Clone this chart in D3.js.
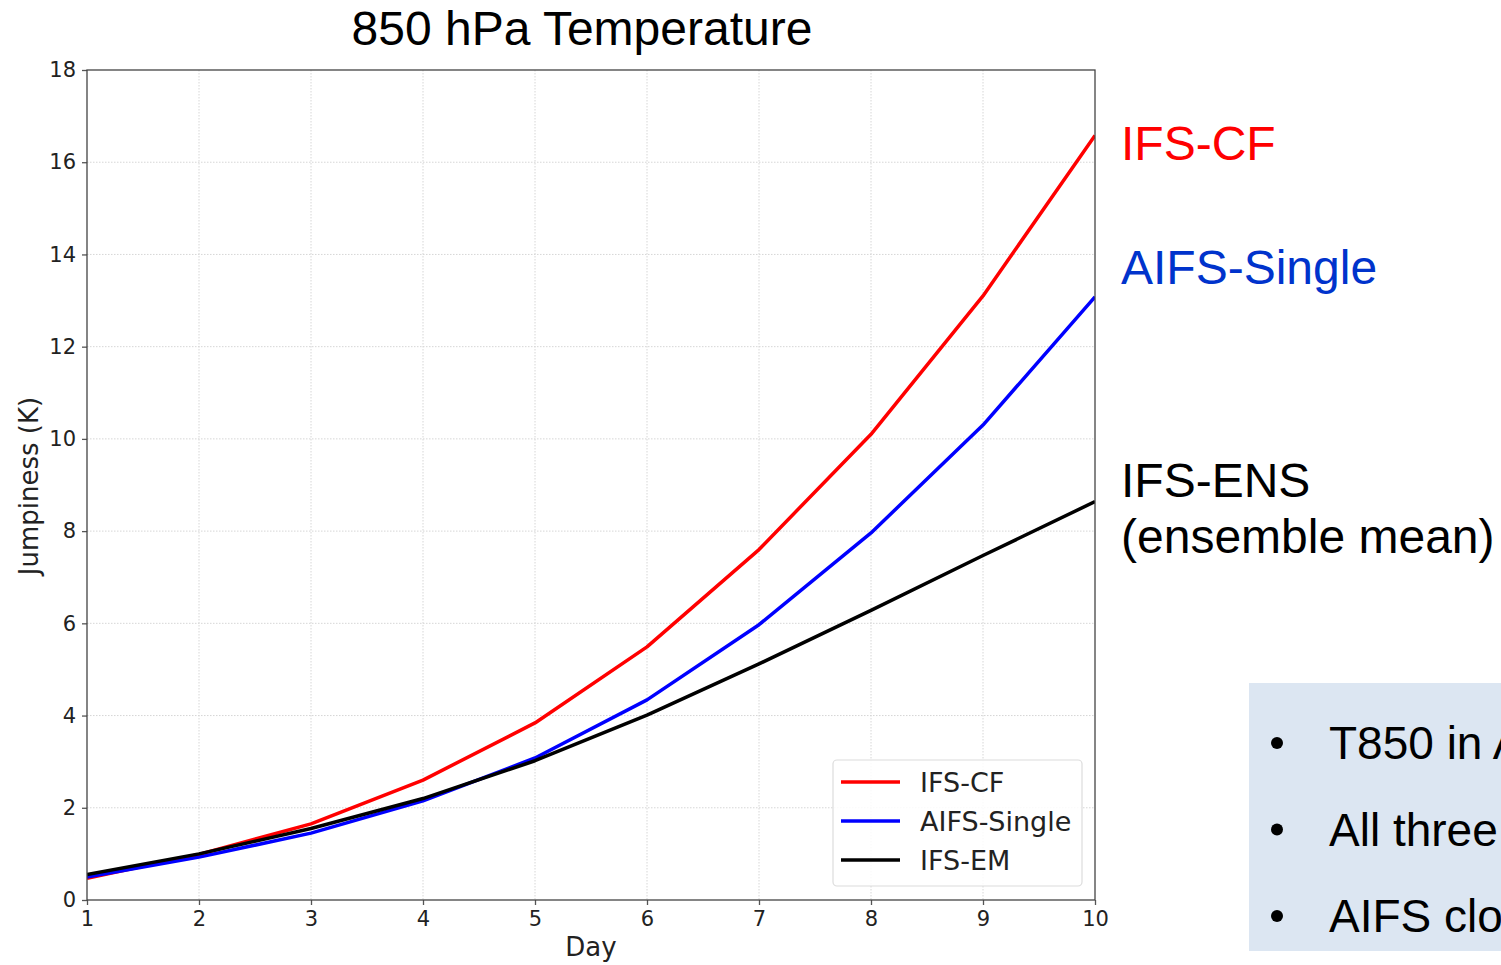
<!DOCTYPE html>
<html><head><meta charset="utf-8">
<script src="https://cdn.jsdelivr.net/npm/d3@7"></script>
<style>body{margin:0;background:#fff;overflow:hidden}svg{display:block}</style>
</head><body>
<svg id="c" width="1501" height="965"></svg>
<script>
const days = [1,2,3,4,5,6,7,8,9,10];
const ifsCF = [0.47,0.99,1.65,2.6,3.84,5.49,7.6,10.1,13.1,16.58];
const aifsSingle = [0.5,0.93,1.45,2.15,3.08,4.34,5.97,7.96,10.3,13.08];
const ifsEM = [0.55,1.0,1.55,2.2,3.02,4.01,5.12,6.28,7.47,8.64];
const xTicks = [1,2,3,4,5,6,7,8,9,10];
const yTicks = [0,2,4,6,8,10,12,14,16,18];
const seriesNames = ["IFS-CF","AIFS-Single","IFS-EM"];
const seriesColors = ["#ff0000","#0000ff","#000000"];
const bullets = ["T850 in AIFS","All three","AIFS closer"];

const svg = d3.select("#c");
const L=87, R=1095, T=70, B=900;
const x = d3.scaleLinear().domain([1,10]).range([L,R]);
const y = d3.scaleLinear().domain([0,18]).range([B,T]);
const tickFont = "DejaVu Sans, sans-serif";

// grid
const g = svg.append("g");
g.selectAll(".gx").data(xTicks.slice(1,-1)).join("line")
  .attr("x1",d=>x(d)).attr("x2",d=>x(d)).attr("y1",T).attr("y2",B)
  .attr("stroke","#d6d6d6").attr("stroke-width",1).attr("stroke-dasharray","1.5,1.5");
g.selectAll(".gy").data(yTicks.slice(1,-1)).join("line")
  .attr("x1",L).attr("x2",R).attr("y1",d=>y(d)).attr("y2",d=>y(d))
  .attr("stroke","#d6d6d6").attr("stroke-width",1).attr("stroke-dasharray","1.5,1.5");

// lines
const series = [ifsCF, aifsSingle, ifsEM];
const line = d3.line().x((d,i)=>x(days[i])).y(d=>y(d));
svg.append("defs").append("clipPath").attr("id","pc").append("rect")
  .attr("x",L).attr("y",T).attr("width",R-L).attr("height",B-T);
series.forEach((s,k)=>{
  svg.append("path").datum(s).attr("d",line).attr("fill","none")
    .attr("stroke",seriesColors[k]).attr("stroke-width",3.5)
    .attr("stroke-linejoin","round").attr("clip-path","url(#pc)");
});

// axes
const xAxis = svg.append("g").attr("transform",`translate(0,${B})`)
  .call(d3.axisBottom(x).tickValues(xTicks).tickSize(5).tickPadding(6).tickFormat(d3.format("d")));
const yAxis = svg.append("g").attr("transform",`translate(${L},0)`)
  .call(d3.axisLeft(y).tickValues(yTicks).tickSize(5).tickPadding(6).tickFormat(d3.format("d")));
[xAxis,yAxis].forEach(a=>{
  a.select(".domain").remove();
  a.selectAll("line").attr("stroke","#555").attr("stroke-width",1.3);
  a.selectAll("text").attr("fill","#222").style("font-family",tickFont).style("font-size","21px");
});
// frame
svg.append("rect").attr("x",L).attr("y",T).attr("width",R-L).attr("height",B-T)
  .attr("fill","none").attr("stroke","#444").attr("stroke-width",1.3);

// axis labels
svg.append("text").attr("x",(L+R)/2).attr("y",956).attr("text-anchor","middle")
  .style("font-family",tickFont).style("font-size","26px").attr("fill","#222").text("Day");
svg.append("text").attr("transform",`translate(38,486) rotate(-90)`).attr("text-anchor","middle")
  .style("font-family",tickFont).style("font-size","26px").attr("fill","#222").text("Jumpiness (K)");

// title
svg.append("text").attr("x",582).attr("y",45).attr("text-anchor","middle")
  .style("font-family","Liberation Sans, Arial, sans-serif").style("font-size","48px").attr("fill","#000")
  .text("850 hPa Temperature");

// legend
const lg = svg.append("g");
lg.append("rect").attr("x",833).attr("y",760).attr("width",249).attr("height",126).attr("rx",4)
  .attr("fill","#fff").attr("fill-opacity",0.85).attr("stroke","#dcdcdc").attr("stroke-width",1.2);
seriesNames.forEach((n,i)=>{
  const yy = 782 + i*39;
  lg.append("line").attr("x1",841).attr("x2",900).attr("y1",yy).attr("y2",yy)
    .attr("stroke",seriesColors[i]).attr("stroke-width",3.5);
  lg.append("text").attr("x",920).attr("y",yy+9.5).style("font-family",tickFont).style("font-size","27px")
    .attr("fill","#222").text(n);
});

// right annotations
const af = "Liberation Sans, Arial, sans-serif";
svg.append("text").attr("x",1121).attr("y",160).style("font-family",af).style("font-size","48px").attr("fill","#ff0000").text("IFS-CF");
svg.append("text").attr("x",1121).attr("y",284).style("font-family",af).style("font-size","48px").attr("fill","#0033cc").text("AIFS-Single");
svg.append("text").attr("x",1121).attr("y",497).style("font-family",af).style("font-size","48px").attr("fill","#000").text("IFS-ENS");
svg.append("text").attr("x",1121).attr("y",553).style("font-family",af).style("font-size","48px").attr("fill","#000").text("(ensemble mean)");

// bullet box
svg.append("rect").attr("x",1249).attr("y",683).attr("width",260).attr("height",268).attr("fill","#dce6f2");
bullets.forEach((b,i)=>{
  const yy = 759 + i*86.5;
  svg.append("circle").attr("cx",1277).attr("cy",yy-16).attr("r",6).attr("fill","#000");
  svg.append("text").attr("x",1329).attr("y",yy).style("font-family",af).style("font-size","46px").attr("fill","#000").text(b);
});
</script>
</body></html>
